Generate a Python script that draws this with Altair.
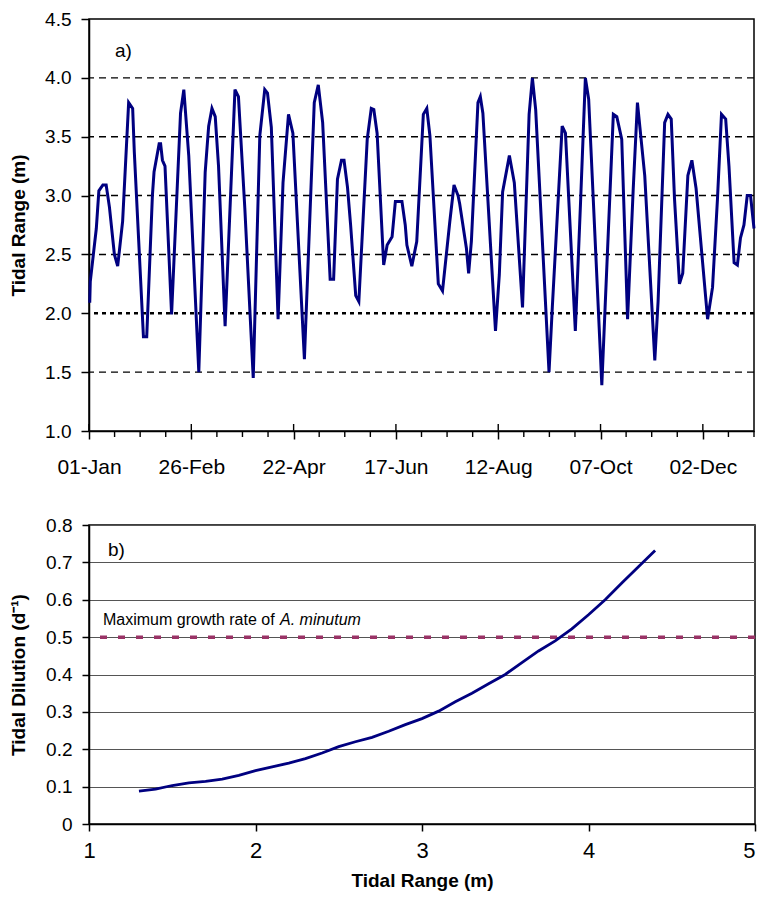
import json
import altair as alt
import pandas as pd

FONT = "Liberation Sans"

# ---------------- panel a) : daily tidal range through the year ----------------
days = [0.4, 0.7, 4.0, 5.4, 7.6, 9.4, 11.2, 13.9, 15.7, 18.4,
        21.7, 23.9, 24.8, 29.8, 31.6, 34.7, 35.6, 38.4, 39.2, 40.2,
        41.6, 45.2, 50.1, 51.9, 54.6, 60.1, 63.6, 65.5, 67.3, 69.1,
        70.9, 74.5, 79.9, 81.8, 85.3, 89.9, 93.5, 96.2, 97.7, 99.8,
        103.5, 106.2, 109.2, 111.6, 117.9, 123.3, 125.5, 127.9, 132.0, 133.9,
        136.0, 138.2, 139.6, 141.5, 143.2, 146.0, 147.7, 152.3, 154.5, 155.9,
        157.7, 161.3, 163.2, 165.9, 167.7, 171.3, 173.1, 174.0, 176.7, 179.4,
        183.0, 184.9, 186.6, 191.2, 193.5, 197.5, 199.8, 202.0, 202.9, 206.6,
        207.8, 209.3, 212.9, 214.2, 215.6, 222.5, 224.6, 226.4, 230.1, 232.8,
        237.3, 240.9, 242.7, 244.5, 251.8, 253.6, 259.0, 260.8, 266.2, 269.0,
        271.7, 273.5, 280.7, 282.5, 287.0, 288.9, 291.6, 294.8, 297.9, 300.2,
        304.2, 309.7, 311.5, 315.1, 316.9, 318.7, 320.5, 323.2, 325.0, 327.8,
        330.0, 332.3, 338.6, 341.3, 344.0, 346.2, 348.5, 350.3, 353.1, 354.9,
        356.6, 358.5, 360.3, 362.1, 364.0]
tidal_range = [2.09, 2.27, 2.72, 3.04, 3.09, 3.09, 2.90, 2.50, 2.40, 2.78,
               3.79, 3.74, 3.37, 1.80, 1.80, 3.00, 3.20, 3.44, 3.44, 3.30,
               3.25, 1.99, 3.70, 3.90, 3.34, 1.50, 3.20, 3.59, 3.74, 3.67,
               3.25, 1.89, 3.90, 3.84, 2.89, 1.45, 3.51, 3.90, 3.87, 3.58,
               1.95, 3.11, 3.69, 3.53, 1.61, 3.79, 3.94, 3.62, 2.29, 2.29,
               3.14, 3.30, 3.30, 3.07, 2.75, 2.15, 2.10, 3.48, 3.74, 3.73,
               3.53, 2.41, 2.58, 2.65, 2.95, 2.95, 2.75, 2.58, 2.40, 2.61,
               3.69, 3.74, 3.51, 2.25, 2.19, 2.78, 3.09, 3.00, 2.93, 2.55,
               2.34, 2.61, 3.79, 3.84, 3.70, 1.85, 2.33, 3.03, 3.34, 3.11,
               2.05, 3.69, 4.00, 3.73, 1.50, 2.05, 3.59, 3.53, 1.85, 2.92,
               4.00, 3.82, 1.39, 2.05, 3.69, 3.67, 3.48, 1.95, 3.06, 3.79,
               3.17, 1.60, 2.10, 3.62, 3.69, 3.65, 2.97, 2.25, 2.34, 3.17,
               3.30, 3.06, 1.95, 2.22, 2.97, 3.69, 3.65, 3.25, 2.43, 2.41,
               2.64, 2.75, 3.00, 3.00, 2.72]
assert len(days) == len(tidal_range)

major_tick_days = [0, 56, 112, 168, 224, 280, 336]
major_tick_labels = ["01-Jan", "26-Feb", "22-Apr", "17-Jun", "12-Aug", "07-Oct", "02-Dec"]
minor_tick_days = [14, 28, 42, 70, 84, 98, 126, 140, 154, 182, 196, 210,
                   238, 252, 266, 294, 308, 322, 350, 364]
y_ticks_a = [1.0, 1.5, 2.0, 2.5, 3.0, 3.5, 4.0, 4.5]
dashed_grid_a = [1.5, 2.5, 3.0, 3.5, 4.0]
dotted_grid_a = [2.0]

# ---------------- panel b) : tidal dilution vs tidal range ----------------
range_b = [1.3, 1.4, 1.5, 1.6, 1.7, 1.8, 1.9, 2.0, 2.1, 2.2, 2.3, 2.4, 2.5, 2.6, 2.7, 2.8,
           2.9, 3.0, 3.1, 3.2, 3.3, 3.4, 3.5, 3.6, 3.7, 3.8, 3.9, 4.0, 4.1, 4.2, 4.3, 4.4]
dilution_b = [0.088, 0.093, 0.103, 0.110, 0.114, 0.120, 0.130, 0.143, 0.153, 0.163, 0.175,
              0.190, 0.207, 0.220, 0.232, 0.248, 0.266, 0.282, 0.302, 0.327, 0.350, 0.375,
              0.400, 0.432, 0.463, 0.490, 0.522, 0.560, 0.600, 0.645, 0.688, 0.732]
growth_rate = [0.5]
x_ticks_b = [1, 2, 3, 4, 5]
y_ticks_b = [0, 0.1, 0.2, 0.3, 0.4, 0.5, 0.6, 0.7, 0.8]

W1, H1 = 665, 412
W2, H2 = 666, 299
NAVY = "#000080"

# ================= top panel =================
xs_a = alt.Scale(domain=[0, 364], nice=False, zero=False)
ys_a = alt.Scale(domain=[1.0, 4.5], nice=False, zero=False)

label_expr = "indexof({d}, datum.value) >= 0 ? {l}[indexof({d}, datum.value)] : ''".format(
    d=json.dumps(major_tick_days), l=json.dumps(major_tick_labels))

axis_xa = alt.Axis(values=major_tick_days, labelExpr=label_expr, title=None,
                   tickSize=8, labelPadding=17, labelFontSize=21, grid=False,
                   labelFlush=False)
axis_ya = alt.Axis(values=y_ticks_a, format=".1f", title="Tidal Range (m)",
                   tickSize=8, labelPadding=10, grid=False, titleX=-61)


def xa(field):
    return alt.X(field, type="quantitative", scale=xs_a, axis=axis_xa)


def ya(field):
    return alt.Y(field, type="quantitative", scale=ys_a, axis=axis_ya)


line_a = alt.Chart(pd.DataFrame({"day": days, "range": tidal_range})).mark_line(
    color=NAVY, strokeWidth=3
).encode(x=xa("day"), y=ya("range"))

grid_a = alt.Chart(pd.DataFrame({"range": dashed_grid_a})).mark_rule(
    color="black", strokeDash=[7, 5], strokeWidth=1.4
).encode(y=ya("range"))

grid_a2 = alt.Chart(pd.DataFrame({"range": dotted_grid_a})).mark_rule(
    color="black", strokeDash=[4, 4], strokeWidth=2.6
).encode(y=ya("range"))

minor_ticks = alt.Chart(pd.DataFrame({"day": minor_tick_days})).mark_rule(
    color="black", strokeWidth=1.4
).encode(x=xa("day"), y=alt.value(H1), y2=alt.value(H1 + 6))

major_inner = alt.Chart(pd.DataFrame({"day": major_tick_days})).mark_rule(
    color="black", strokeWidth=1.4
).encode(x=xa("day"), y=alt.value(H1 - 7), y2=alt.value(H1))

label_a = alt.Chart(pd.DataFrame({"t": ["a)"]})).mark_text(
    align="left", baseline="middle", fontSize=19, font=FONT, color="black"
).encode(x=alt.value(26), y=alt.value(32), text="t:N")

top = alt.layer(grid_a, grid_a2, line_a, minor_ticks, major_inner, label_a).properties(
    width=W1, height=H1)

# ================= bottom panel =================
xs_b = alt.Scale(domain=[1, 5], nice=False, zero=False)
ys_b = alt.Scale(domain=[0, 0.8], nice=False, zero=True)

axis_xb = alt.Axis(values=x_ticks_b, format="d", title="Tidal Range (m)",
                   tickSize=7, labelPadding=9, labelFontSize=22, grid=False,
                   titlePadding=10, labelFlush=False,
                   labelAlign={"condition": {"test": "datum.value == 5", "value": "right"},
                               "value": "center"})
axis_yb = alt.Axis(values=y_ticks_b, format="~f", title="Tidal Dilution (d⁻¹)",
                   tickSize=7, labelPadding=10, grid=True, gridColor="#555555",
                   gridWidth=1, titleX=-61)

curve = alt.Chart(pd.DataFrame({"tr": range_b, "dil": dilution_b})).mark_line(
    color=NAVY, strokeWidth=2.8
).encode(
    x=alt.X("tr:Q", scale=xs_b, axis=axis_xb),
    y=alt.Y("dil:Q", scale=ys_b, axis=axis_yb),
)

thr = alt.Chart(pd.DataFrame({"dil": growth_rate})).mark_rule(
    color="#993366", strokeDash=[7, 11], strokeWidth=3.5
).encode(y=alt.Y("dil:Q", scale=ys_b, axis=axis_yb))

label_b = alt.Chart(pd.DataFrame({"t": ["b)"]})).mark_text(
    align="left", baseline="middle", fontSize=19, font=FONT, color="black"
).encode(x=alt.value(19), y=alt.value(25), text="t:N")

note_plain = alt.Chart(pd.DataFrame({"t": ["Maximum growth rate of "]})).mark_text(
    align="left", baseline="middle", fontSize=16, font=FONT, color="black"
).encode(x=alt.value(14), y=alt.value(95), text="t:N")

note_italic = alt.Chart(pd.DataFrame({"t": ["A. minutum"]})).mark_text(
    align="left", baseline="middle", fontSize=16, font=FONT, fontStyle="italic", color="black"
).encode(x=alt.value(191), y=alt.value(95), text="t:N")

bottom = alt.layer(thr, curve, label_b, note_plain, note_italic).properties(
    width=W2, height=H2)

chart = alt.vconcat(top, bottom, spacing=37).properties(
    padding={"left": 0, "top": 1, "right": 0, "bottom": 0}
).configure_view(
    stroke="black", strokeWidth=1.5
).configure_axis(
    labelFont=FONT, titleFont=FONT, labelFontSize=19, titleFontSize=19,
    titleFontWeight="bold", labelColor="black", titleColor="black",
    domainColor="black", tickColor="black", domainWidth=1.5, tickWidth=1.5,
)

chart.save("out.html", embed_options={"renderer": "svg", "actions": False})
